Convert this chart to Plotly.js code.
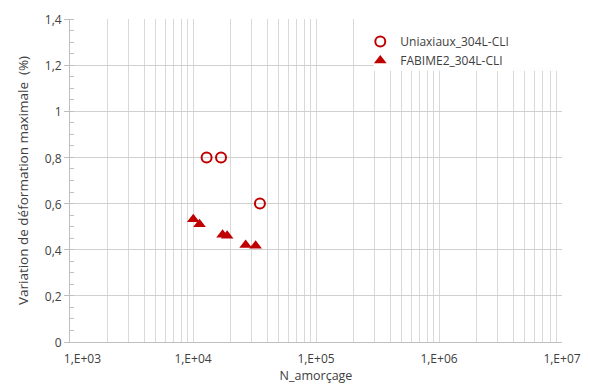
<!DOCTYPE html>
<html>
<head>
<meta charset="utf-8">
<script src="https://cdn.plot.ly/plotly-3.0.1.min.js"></script>
<style>html,body{margin:0;padding:0;background:#fff;}#chart{width:590px;height:385px;}</style>
</head>
<body>
<div id="chart"></div>
<script>
// Data
const uniName = "Uniaxiaux_304L-CLI";
const uniN = [12900, 16900, 35000];
const uniEps = [0.8, 0.8, 0.6];

const fabName = "FABIME2_304L-CLI";
const fabN = [10050, 11300, 17400, 18950, 26800, 32300];
const fabEps = [0.532, 0.51, 0.465, 0.461, 0.42, 0.417];

const xDecades = [1e3, 1e4, 1e5, 1e6, 1e7];
const xDecadeLabels = ["1,E+03", "1,E+04", "1,E+05", "1,E+06", "1,E+07"];
const yTickVals = [0, 0.2, 0.4, 0.6, 0.8, 1, 1.2, 1.4];
const yTickText = ["0", "0,2", "0,4", "0,6", "0,8", "1", "1,2", "1,4"];

const xTitle = "N_amorçage";
const yTitle = "Variation de déformation maximale  (%)";

// log grid positions (decades plus 2..9 within each)
const xTickVals = [], xTickText = [];
xDecades.forEach((d, i) => {
  let lab = xDecadeLabels[i];
  if (i === 0) lab = "\u00a0".repeat(8) + lab; // first label sits right of its gridline, as in the reference
  xTickVals.push(d); xTickText.push(lab);
  if (i < xDecades.length - 1) {
    for (let k = 2; k <= 9; k++) { xTickVals.push(d * k); xTickText.push(""); }
  }
});

const red = "#c00000";
const font = "'Open Sans', 'Noto Sans', sans-serif";
const txt = "#404040";

const traces = [
  {
    type: "scatter", mode: "markers", name: uniName, x: uniN, y: uniEps,
    marker: {symbol: "circle-open", size: 10, color: red, line: {width: 2, color: red}}
  },
  {
    type: "scatter", mode: "markers", name: fabName, x: fabN, y: fabEps,
    marker: {symbol: "triangle-up", size: 11, color: red}
  }
];

const layout = {
  width: 590, height: 385,
  margin: {l: 70, r: 28, t: 19, b: 43},
  paper_bgcolor: "#fff", plot_bgcolor: "#fff",
  font: {family: font, size: 12, color: txt},
  showlegend: true,
  legend: {
    x: 0.59, y: 0.975, xanchor: "left", yanchor: "top",
    bgcolor: "rgba(0,0,0,0)", font: {family: font, size: 12, color: txt},
    itemwidth: 30, tracegroupgap: 0
  },
  xaxis: {
    type: "log", range: [3, 7],
    tickmode: "array", tickvals: xTickVals, ticktext: xTickText,
    ticks: "", showgrid: true, gridcolor: "#d9d9d9", gridwidth: 1,
    showline: true, linecolor: "#bfbfbf", linewidth: 1,
    zeroline: false, ticklabelstandoff: 6,
    tickfont: {family: font, size: 12, color: txt},
    title: {text: xTitle, font: {family: font, size: 12.5, color: txt}, standoff: 3},
    automargin: false
  },
  yaxis: {
    range: [0, 1.4],
    tickmode: "array", tickvals: yTickVals, ticktext: yTickText,
    ticks: "outside", ticklen: 5, tickcolor: "#bfbfbf",
    showgrid: true, gridcolor: "#d0d0d0", gridwidth: 1,
    showline: true, linecolor: "#bfbfbf", linewidth: 1,
    zeroline: false, ticklabelshift: 1,
    minor: {dtick: 0.05, ticks: "inside", ticklen: 4, tickcolor: "#bfbfbf", showgrid: false},
    tickfont: {family: font, size: 12, color: txt},
    title: {text: yTitle, font: {family: font, size: 13.5, color: txt}, standoff: 13},
    automargin: false
  },
  shapes: [
    {type: "rect", xref: "paper", yref: "paper", x0: 0.617, x1: 1.01, y0: 0.84, y1: 1.01,
     fillcolor: "#fff", line: {width: 0}, layer: "above"}
  ]
};

Plotly.newPlot("chart", traces, layout, {displayModeBar: false, staticPlot: true});
</script>
</body>
</html>
